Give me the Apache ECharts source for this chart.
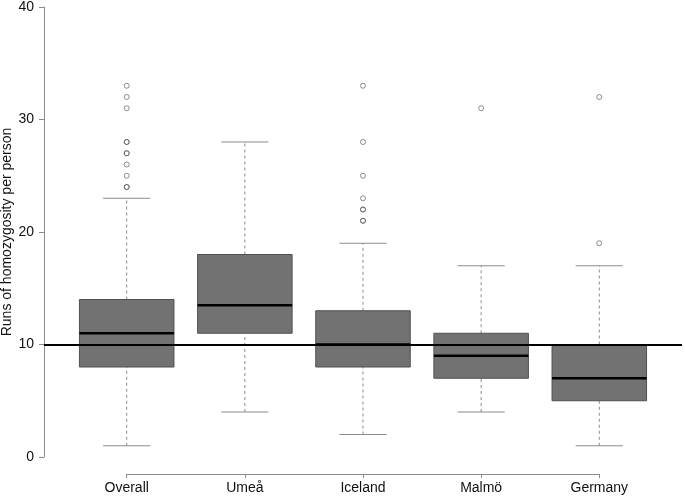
<!DOCTYPE html>
<html><head><meta charset="utf-8">
<script src="https://cdn.jsdelivr.net/npm/echarts@6/dist/echarts.min.js"></script>
<style>html,body{margin:0;padding:0;background:#fff}#c{width:685px;height:497px}</style>
</head><body><div id="c"></div>
<script>
// ---- data ----
const categories = ['Overall', 'Umeå', 'Iceland', 'Malmö', 'Germany'];
const whiskerLow  = [1, 4, 2, 4, 1];
const quartile1   = [8, 11, 8, 7, 5];
const medians     = [11, 13.5, 10, 9, 7];
const quartile3   = [14, 18, 13, 11, 10];
const whiskerHigh = [23, 28, 19, 17, 17];
const outliersOverall = [24, 24, 25, 26, 27, 27, 28, 28, 31, 32, 33];
const outliersUmea    = [];
const outliersIceland = [21, 21, 22, 22, 23, 25, 28, 33];
const outliersMalmo   = [31];
const outliersGermany = [19, 32];
const referenceValue = 10;
const yMin = 0, yMax = 40, yInterval = 10;
const yTitle = 'Runs of homozygosity per person';

// ---- build ----
const outlierLists = [outliersOverall, outliersUmea, outliersIceland, outliersMalmo, outliersGermany];
const boxData = categories.map((c, i) => [i, whiskerLow[i], quartile1[i], medians[i], quartile3[i], whiskerHigh[i]]);
const outlierData = [];
outlierLists.forEach((list, i) => list.forEach(v => outlierData.push([i, v])));

const FONT = "'Liberation Sans', Arial, Helvetica, sans-serif";
const gridLeft = 44, gridRightEdge = 682;
const xPad = 0.7; // R-style axis extension around 1..n
const xSpan = categories.length - 1 + 2 * xPad;
const unit = (gridRightEdge - gridLeft) / xSpan;
const catLeft = gridLeft + xPad * unit;
const catWidth = (categories.length - 1) * unit;

function renderBox(params, api) {
  const x = api.value(0);
  const lo = api.coord([x, api.value(1)]);
  const b1 = api.coord([x, api.value(2)]);
  const md = api.coord([x, api.value(3)]);
  const b3 = api.coord([x, api.value(4)]);
  const hi = api.coord([x, api.value(5)]);
  const u = api.size([1, 0])[0];
  const hw = u * 0.4, cw = u * 0.2;
  const cx = lo[0];
  const whisk = { stroke: '#8c8c8c', lineWidth: 1, lineDash: [3, 3] };
  const cap = { stroke: '#8c8c8c', lineWidth: 1 };
  return {
    type: 'group',
    children: [
      { type: 'line', shape: { x1: cx, y1: lo[1], x2: cx, y2: b1[1] }, style: whisk },
      { type: 'line', shape: { x1: cx, y1: b3[1], x2: cx, y2: hi[1] }, style: whisk },
      { type: 'line', shape: { x1: cx - cw, y1: lo[1], x2: cx + cw, y2: lo[1] }, style: cap },
      { type: 'line', shape: { x1: cx - cw, y1: hi[1], x2: cx + cw, y2: hi[1] }, style: cap },
      { type: 'rect', shape: { x: cx - hw, y: b3[1], width: 2 * hw, height: b1[1] - b3[1] },
        style: { fill: '#727272', stroke: '#505050', lineWidth: 1 } },
      { type: 'line', shape: { x1: cx - hw, y1: md[1], x2: cx + hw, y2: md[1] },
        style: { stroke: '#000', lineWidth: 2.5 } }
    ]
  };
}

const chart = echarts.init(document.getElementById('c'), null, { renderer: 'canvas' });
chart.setOption({
  animation: false,
  backgroundColor: '#fff',
  textStyle: { fontFamily: FONT },
  grid: [
    { left: gridLeft, right: 685 - gridRightEdge, top: 7, bottom: 40, containLabel: false, outerBoundsMode: 'none' },
    { left: catLeft, width: catWidth, top: 473, height: 1, containLabel: false, outerBoundsMode: 'none' }
  ],
  xAxis: [
    { type: 'value', gridIndex: 0, min: -xPad, max: categories.length - 1 + xPad, show: false },
    { type: 'category', gridIndex: 1, data: categories, boundaryGap: false,
      axisLine: { show: true, onZero: false, lineStyle: { color: '#8c8c8c', width: 1 } },
      axisTick: { show: true, length: 4, inside: false, interval: 0, lineStyle: { color: '#8c8c8c' } },
      axisLabel: { interval: 0, margin: 7, fontSize: 14, color: '#111', fontFamily: FONT },
      splitLine: { show: false } }
  ],
  yAxis: [
    { type: 'value', gridIndex: 0, min: yMin, max: yMax, interval: yInterval,
      name: yTitle, nameLocation: 'middle', nameRotate: 90, nameGap: 30, nameMoveOverlap: false,
      nameTextStyle: { fontSize: 14, color: '#111', fontFamily: FONT },
      axisLine: { show: true, onZero: false, lineStyle: { color: '#8c8c8c', width: 1 } },
      axisTick: { show: true, length: 5, lineStyle: { color: '#8c8c8c' } },
      axisLabel: { margin: 10, fontSize: 14, color: '#111', fontFamily: FONT },
      splitLine: { show: false } },
    { type: 'value', gridIndex: 1, min: 0, max: 1, show: false }
  ],
  series: [
    { type: 'custom', xAxisIndex: 0, yAxisIndex: 0, data: boxData, renderItem: renderBox,
      encode: { x: 0, y: [1, 2, 3, 4, 5] }, clip: false,
      markLine: { silent: true, symbol: 'none', label: { show: false },
        lineStyle: { color: '#000', width: 2, type: 'solid' },
        data: [{ yAxis: referenceValue }] } },
    { type: 'scatter', xAxisIndex: 0, yAxisIndex: 0, data: outlierData, symbol: 'circle', symbolSize: 5,
      itemStyle: { color: 'rgba(0,0,0,0)', borderColor: 'rgba(70,70,70,0.75)', borderWidth: 1 } }
  ]
});
</script>
</body></html>
